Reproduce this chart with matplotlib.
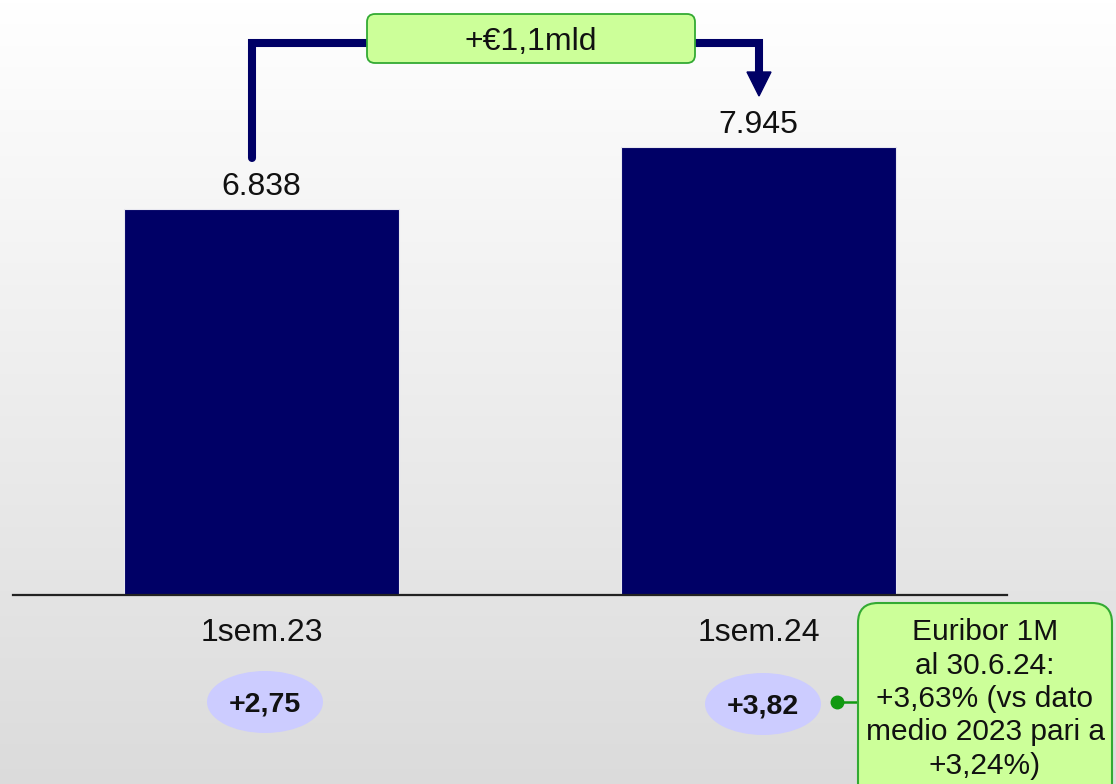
import numpy as np
import matplotlib
matplotlib.use("Agg")
import matplotlib.pyplot as plt
from matplotlib.patches import FancyBboxPatch, Ellipse, Polygon

plt.rcParams['font.family'] = ['Liberation Sans', 'DejaVu Sans']

# Data
categories = ["1sem.23", "1sem.24"]
values = [6838, 7945]
value_labels = ["6.838", "7.945"]
rate_labels = ["+2,75", "+3,82"]
delta_label = "+\u20ac1,1mld"
note_text = "Euribor 1M\nal 30.6.24:\n+3,63% (vs dato\nmedio 2023 pari a\n+3,24%)"

W, H = 1116, 784
fig = plt.figure(figsize=(W / 100, H / 100), dpi=100)

# Background gradient (white at the top to light grey at the bottom)
bg = fig.add_axes([0, 0, 1, 1], zorder=0)
grad = np.linspace(1.0, 0.86, 256).reshape(-1, 1)
bg.imshow(np.dstack([grad, grad, grad]), aspect='auto', extent=[0, 1, 0, 1], origin='upper')
bg.set_axis_off()

# Bar axes
ax = fig.add_axes([0, 0, 1, 1], zorder=1)
ax.patch.set_alpha(0)
ax.set_xlim(-0.526, 1.719)
ax.set_ylim(-3350, 10546)
ax.set_axis_off()

x = np.arange(len(categories))
ax.bar(x, values, width=0.553, color="#000066", edgecolor="#e8e8f0", linewidth=0.8, zorder=2)
ax.axhline(0, xmin=13 / W, xmax=1007 / W, color="#222222", linewidth=1.6, zorder=3)

for xi, v, lab in zip(x, values, value_labels):
    ax.text(xi, v + 390, lab, ha='center', va='center', fontsize=23, color="#111111", zorder=4)
for xi, cat in zip(x, categories):
    ax.text(xi, -670, cat, ha='center', va='center', fontsize=23, color="#111111", zorder=4)

# Overlay in pixel coordinates for callouts
ov = fig.add_axes([0, 0, 1, 1], zorder=2)
ov.patch.set_alpha(0)
ov.set_xlim(0, W)
ov.set_ylim(H, 0)
ov.set_axis_off()

navy = "#000066"
# Connector from first bar to second bar
ov.plot([252, 252, 368], [158, 43, 43], color=navy, lw=5.8, solid_capstyle='round',
        solid_joinstyle='miter', zorder=2)
ov.plot([694, 759, 759], [43, 43, 74], color=navy, lw=5.8, solid_joinstyle='miter', zorder=2)
ov.add_patch(Polygon([[747, 72], [771, 72], [759, 96]], closed=True, color=navy, zorder=2))

# Difference label box
ov.add_patch(FancyBboxPatch((367, 14), 328, 49, boxstyle="round,pad=0,rounding_size=8",
                            facecolor="#ccff99", edgecolor="#33aa33", linewidth=1.3, zorder=3))
ov.text(531, 42, delta_label, ha='center', va='center', fontsize=23, color="#111111", zorder=4)

# Rate ellipses
ell_centres = [(265, 702), (763, 704)]
for (cx, cy), lab in zip(ell_centres, rate_labels):
    ov.add_patch(Ellipse((cx, cy), 116, 62, facecolor="#ccccff", edgecolor='none', zorder=3))
    ov.text(cx, cy + 2, lab, ha='center', va='center', fontsize=20.5, fontweight='bold',
            color="#111111", zorder=4)

# Note callout
green = "#119911"
ov.plot([837, 860], [702, 702], color=green, lw=1.8, zorder=3)
ov.plot([837], [702], marker='o', markersize=9, color=green, zorder=4)
ov.add_patch(FancyBboxPatch((858, 603), 254, 200, boxstyle="round,pad=0,rounding_size=20",
                            facecolor="#ccff99", edgecolor="#33aa33", linewidth=1.5, zorder=3))
ov.text(985, 699, note_text, ha='center', va='center', fontsize=21.5, color="#111111",
        linespacing=1.24, zorder=4)

fig.savefig("out.png", dpi=100)
